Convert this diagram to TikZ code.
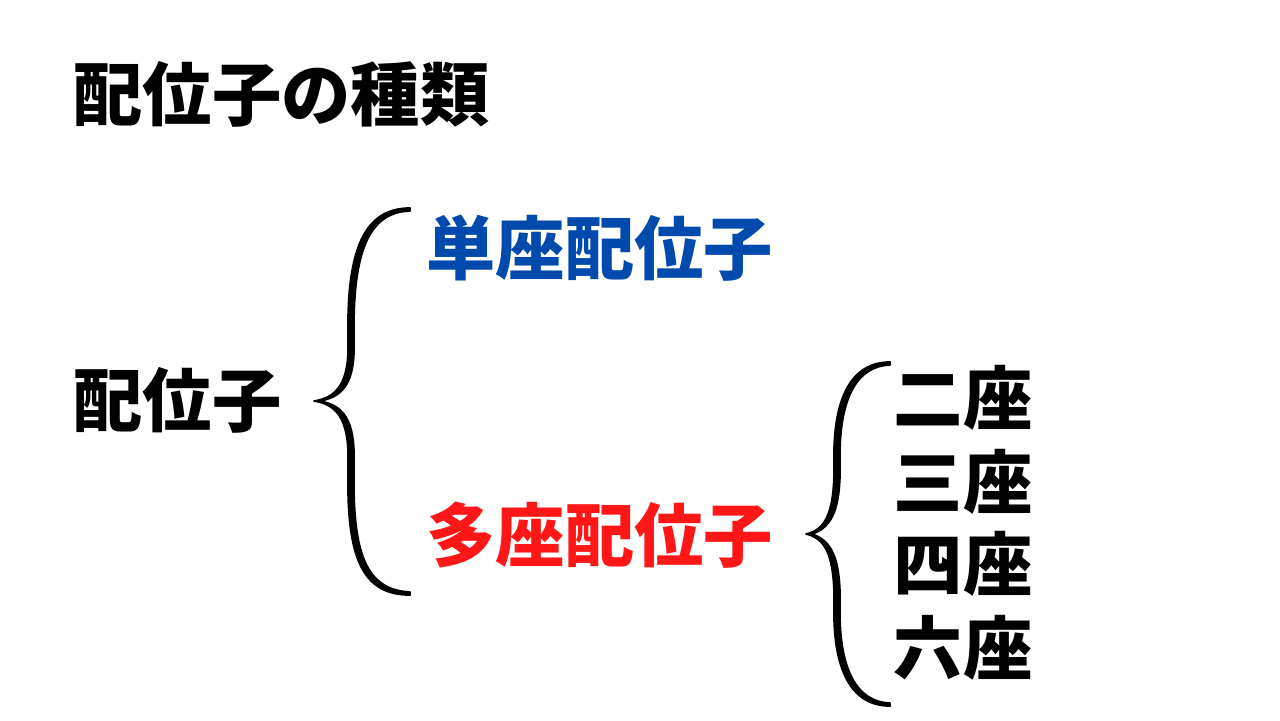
\documentclass[tikz,border=0pt]{standalone}
\usepackage{fontspec}
\setmainfont{Noto Sans CJK JP}
\usetikzlibrary{positioning}
\definecolor{monoblue}{HTML}{004AAD}
\definecolor{polyred}{HTML}{FF1616}
\tikzset{
    label/.style = {font=\fontsize{19.7}{23}\selectfont\bfseries, inner sep=0, anchor=base west},
    bracket/.style = {draw, fill, line width=0.5pt, line join=round}
}
\begin{document}
\begin{tikzpicture}[x=0.01cm,y=-0.01cm]
    \useasboundingbox (0,0) rectangle (1280,720);
    \node[label] (title) at (73,120) {配位子の種類};
    \node[label] (ligand) at (73,426) {配位子};
    \node[label,text=monoblue] (mono) at (426,274) {単座配位子};
    \node[label,text=polyred] (poly) at (426,561) {多座配位子};
    \node[label] (bi) at (893,424) {二座};
    \node[label] (tri) at (893,508) {三座};
    \node[label] (tetra) at (893,590) {四座};
    \node[label] (hexa) at (893,674) {六座};
    % big brace
    \path[bracket] (410,208) .. controls (364,208) and (349,250) .. (348,320)
        -- (348,352) .. controls (347,386) and (334,398) .. (314,401)
        .. controls (334,404) and (347,416) .. (348,452)
        -- (348,490) .. controls (349,560) and (364,595) .. (410,595)
        -- (410,592) .. controls (370,590) and (355,560) .. (354,490)
        -- (354,452) .. controls (353,418) and (342,405) .. (320,401)
        .. controls (342,397) and (353,384) .. (354,352)
        -- (354,320) .. controls (355,250) and (370,212) .. (410,211) -- cycle;
    % small brace
    \path[bracket] (890,362) .. controls (850,362) and (835,400) .. (834,450)
        -- (834,475) .. controls (833,515) and (824,530) .. (806,534)
        .. controls (824,538) and (833,553) .. (834,593)
        -- (834,618) .. controls (835,668) and (850,706) .. (890,706)
        -- (890,703) .. controls (856,702) and (841,668) .. (840,618)
        -- (840,593) .. controls (839,555) and (830,540) .. (812,534)
        .. controls (830,528) and (839,513) .. (840,475)
        -- (840,450) .. controls (841,400) and (856,366) .. (890,365) -- cycle;
\end{tikzpicture}
\end{document}
